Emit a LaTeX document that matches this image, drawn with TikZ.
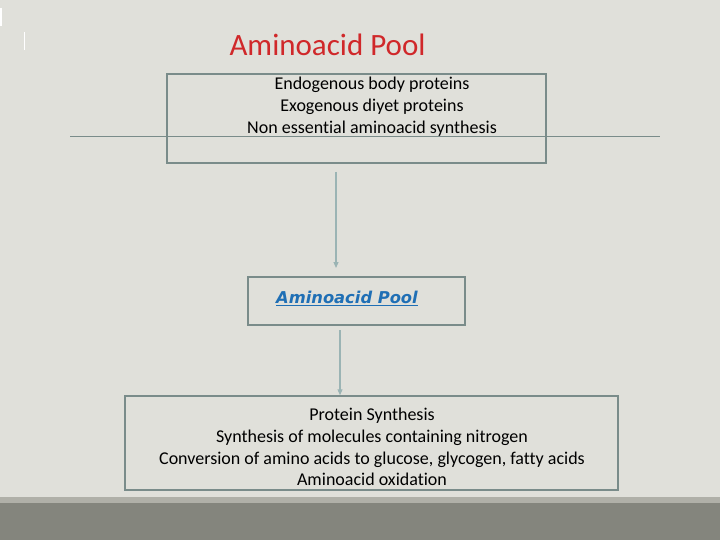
\documentclass[tikz,border=0pt]{standalone}
\usepackage{fontspec}
\setmainfont[Ligatures=NoCommon]{Carlito}
\newfontfamily\verd{DejaVu Sans}
\usetikzlibrary{arrows.meta}
\definecolor{bg}{HTML}{E0E0DA}
\definecolor{band1}{HTML}{B0B0A8}
\definecolor{band2}{HTML}{84857D}
\definecolor{boxc}{HTML}{7A8C8A}
\definecolor{arr}{HTML}{9BB4B4}
\definecolor{ttl}{HTML}{D0282A}
\definecolor{lnk}{HTML}{1F6FB5}
\tikzset{bx/.style={draw=boxc,line width=1.5pt,inner sep=0pt},
 con/.style={draw=arr,line width=1.2pt,-{Triangle[length=6pt,width=5pt]}},
 txt/.style={font=\fontsize{18}{21.8}\selectfont,align=center}}
\begin{document}
\begin{tikzpicture}[x=1pt,y=-1pt]
\useasboundingbox (0,0) rectangle (720,540);
\fill[bg] (0,0) rectangle (720,540);
\fill[band1] (0,497) rectangle (720,503);
\fill[band2] (0,503) rectangle (720,540);
\fill[white] (0,8) rectangle (2,26);
\fill[white] (23.5,32) rectangle (25,50);
\draw[boxc,line width=0.8pt] (70,136) -- (660,136);
\node[ttl,font=\fontsize{31}{34}\selectfont,anchor=west] (title) at (226,45) {Aminoacid Pool};
\node[bx,minimum width=379pt,minimum height=89pt] (top) at (356.5,118.5) {};
\node[txt] (toptxt) at (372,107) {Endogenous body proteins\\Exogenous diyet proteins\\Non essential aminoacid synthesis};
\node[bx,minimum width=217pt,minimum height=48pt] (mid) at (356.5,301) {};
\node[lnk,font=\verd\bfseries\itshape\fontsize{16.3}{18}\selectfont] (midtxt) at (347,298) {\underline{Aminoacid Pool}};
\node[bx,minimum width=493pt,minimum height=94pt] (bot) at (371.5,443) {};
\node[txt] (bottxt) at (372,447) {Protein Synthesis\\Synthesis of molecules containing nitrogen\\Conversion of amino acids to glucose, glycogen, fatty acids\\Aminoacid oxidation};
\coordinate (a1) at (336,172);
\coordinate (a2) at (336,268);
\coordinate (b1) at (340,330);
\draw[con] (a1) -- (a2);
\draw[con] (b1) -- (bot.north -| b1);
\end{tikzpicture}
\end{document}
